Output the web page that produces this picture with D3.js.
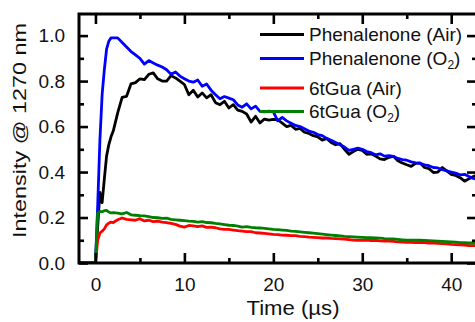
<!DOCTYPE html>
<html>
<head>
<meta charset="utf-8">
<script src="https://cdn.jsdelivr.net/npm/d3@7"></script>
<style>
  html, body { margin: 0; padding: 0; background: #fff; }
  svg { display: block; font-family: Arial, "Liberation Sans", sans-serif; }
</style>
</head>
<body>
<svg id="chart" width="475" height="322"></svg>
<script>
// ---------------------------------------------------------------- //
// Data

var time = [-2, 0, 0.25, 0.5, 0.75, 1, 1.25, 1.5, 1.75, 2,
  2.5, 3, 3.5, 4, 4.5, 5, 5.5, 6, 6.5, 7, 7.5, 8, 8.5, 9, 9.5, 10,
  10.5, 11, 11.5, 12, 12.5, 13, 13.5, 14, 14.5, 15, 15.5, 16, 16.5, 17, 17.5, 18,
  18.5, 19, 19.5, 20, 20.5, 21, 21.5, 22, 22.5, 23, 23.5, 24, 24.5, 25, 25.5, 26,
  26.5, 27, 27.5, 28, 28.5, 29, 29.5, 30, 30.5, 31, 31.5, 32, 32.5, 33, 33.5, 34,
  34.5, 35, 35.5, 36, 36.5, 37, 37.5, 38, 38.5, 39, 39.5, 40, 40.5, 41, 41.5, 42,
  42.5, 42.75];

var phenAir = [0, 0, 0.16, 0.31, 0.265, 0.37, 0.47, 0.52, 0.555, 0.58,
  0.66, 0.728, 0.733, 0.788, 0.793, 0.81, 0.806, 0.83, 0.836, 0.81, 0.80, 0.80, 0.824, 0.814, 0.80, 0.785,
  0.74, 0.76, 0.73, 0.748, 0.726, 0.74, 0.705, 0.696, 0.711, 0.682, 0.696, 0.672, 0.667, 0.655, 0.62, 0.645,
  0.616, 0.633, 0.628, 0.632, 0.63, 0.615, 0.60, 0.605, 0.588, 0.592, 0.575, 0.57, 0.56, 0.555, 0.54, 0.548,
  0.53, 0.52, 0.525, 0.50, 0.478, 0.49, 0.50, 0.495, 0.478, 0.48, 0.47, 0.458, 0.455, 0.465, 0.469, 0.45,
  0.44, 0.432, 0.425, 0.438, 0.44, 0.42, 0.415, 0.398, 0.40, 0.42, 0.405, 0.39, 0.385, 0.375, 0.36, 0.37,
  0.38, 0.385];

var phenO2 = [0, 0, 0.25, 0.54, 0.74, 0.85, 0.94, 0.975, 0.99, 0.99,
  0.99, 0.97, 0.95, 0.93, 0.915, 0.90, 0.875, 0.89, 0.88, 0.87, 0.862, 0.85, 0.83, 0.84, 0.822, 0.81,
  0.80, 0.795, 0.805, 0.777, 0.787, 0.76, 0.74, 0.722, 0.732, 0.725, 0.718, 0.695, 0.685, 0.70, 0.678, 0.69,
  0.667, 0.665, 0.668, 0.665, 0.625, 0.64, 0.625, 0.615, 0.605, 0.60, 0.59, 0.58, 0.575, 0.565, 0.56, 0.548,
  0.54, 0.53, 0.52, 0.51, 0.495, 0.50, 0.505, 0.50, 0.49, 0.485, 0.476, 0.48, 0.47, 0.472, 0.469, 0.46,
  0.455, 0.452, 0.445, 0.44, 0.438, 0.432, 0.428, 0.42, 0.418, 0.41, 0.405, 0.40, 0.395, 0.388, 0.39, 0.38,
  0.372, 0.37];

var guaAir = [0, 0, 0.10, 0.132, 0.14, 0.15, 0.168, 0.175, 0.18, 0.178,
  0.19, 0.198, 0.192, 0.19, 0.188, 0.195, 0.185, 0.188, 0.182, 0.184, 0.18, 0.178, 0.174, 0.17, 0.162, 0.158,
  0.165, 0.163, 0.16, 0.163, 0.157, 0.158, 0.155, 0.15, 0.148, 0.148, 0.145, 0.142, 0.14, 0.138, 0.138, 0.133,
  0.132, 0.13, 0.128, 0.126, 0.125, 0.123, 0.122, 0.12, 0.12, 0.117, 0.116, 0.114, 0.113, 0.112, 0.11, 0.11,
  0.108, 0.107, 0.106, 0.105, 0.103, 0.101, 0.1, 0.1, 0.101, 0.099, 0.1, 0.097, 0.096, 0.096, 0.095, 0.093,
  0.092, 0.091, 0.091, 0.09, 0.091, 0.09, 0.088, 0.087, 0.086, 0.085, 0.084, 0.082, 0.081, 0.08, 0.079, 0.077,
  0.076, 0.076];

var guaO2 = [0, 0, 0.22, 0.227, 0.225, 0.23, 0.231, 0.224, 0.22, 0.222,
  0.219, 0.216, 0.222, 0.212, 0.21, 0.208, 0.207, 0.204, 0.2, 0.199, 0.196, 0.197, 0.192, 0.19, 0.188, 0.186,
  0.184, 0.183, 0.18, 0.182, 0.178, 0.177, 0.174, 0.172, 0.169, 0.166, 0.165, 0.162, 0.158, 0.16, 0.157, 0.155,
  0.154, 0.152, 0.15, 0.148, 0.147, 0.145, 0.143, 0.14, 0.139, 0.137, 0.135, 0.133, 0.131, 0.129, 0.127, 0.125,
  0.123, 0.121, 0.119, 0.117, 0.116, 0.115, 0.114, 0.113, 0.112, 0.111, 0.11, 0.109, 0.107, 0.106, 0.106, 0.104,
  0.102, 0.1, 0.1, 0.101, 0.1, 0.099, 0.098, 0.097, 0.096, 0.095, 0.094, 0.093, 0.092, 0.09, 0.089, 0.088,
  0.088, 0.087];

var seriesNames = ['Phenalenone (Air)', 'Phenalenone (O', '6tGua (Air)', '6tGua (O'];
var seriesSub = ['', '2', '', '2'];
var seriesColors = ['#000000', '#0000ff', '#ff0000', '#008000'];
var seriesValues = [phenAir, phenO2, guaAir, guaO2];

var xTicks = [0, 10, 20, 30, 40];
var xMinor = [5, 15, 25, 35];
var yTicks = [0, 0.2, 0.4, 0.6, 0.8, 1.0];
var yMinor = [0.1, 0.3, 0.5, 0.7, 0.9];

// ---------------------------------------------------------------- //
// Layout

var plot = { left: 79, right: 477, top: 14, bottom: 263 };
var svg = d3.select('#chart');

var x = d3.scaleLinear().domain([-1.85, 42.9]).range([plot.left, plot.right]);
var y = d3.scaleLinear().domain([0, 1.095]).range([plot.bottom, plot.top]);

svg.append('defs').append('clipPath').attr('id', 'clip')
  .append('rect')
  .attr('x', plot.left).attr('y', plot.top)
  .attr('width', plot.right - plot.left).attr('height', plot.bottom - plot.top);

// ---------------------------------------------------------------- //
// Curves

var line = d3.line()
  .x(function(d, i){ return x(time[i]); })
  .y(function(d){ return y(d); });

var curves = svg.append('g').attr('clip-path', 'url(#clip)');
seriesValues.forEach(function(vals, k){
  curves.append('path')
    .attr('d', line(vals))
    .attr('fill', 'none')
    .attr('stroke', seriesColors[k])
    .attr('stroke-width', 2.8)
    .attr('stroke-linejoin', 'round');
});

// ---------------------------------------------------------------- //
// Axes (frame with inward ticks)

function styleAxis(g){
  g.select('.domain').remove();
  g.selectAll('.tick line').attr('stroke', '#000').attr('stroke-width', 2.6);
  g.selectAll('.tick text').attr('fill', '#111').style('font-size', '19px').style('font-family', 'Arial, "Liberation Sans", sans-serif');
}

svg.append('g').attr('transform', 'translate(0,' + plot.bottom + ')')
  .call(d3.axisBottom(x).tickValues(xTicks).tickSize(-10).tickPadding(15).tickFormat(d3.format('d')))
  .call(styleAxis);
svg.append('g').attr('transform', 'translate(0,' + plot.bottom + ')')
  .call(d3.axisBottom(x).tickValues(xMinor).tickSize(-5).tickFormat('')).call(styleAxis);

svg.append('g').attr('transform', 'translate(0,' + plot.top + ')')
  .call(d3.axisTop(x).tickValues(xTicks).tickSize(-10).tickFormat('')).call(styleAxis);
svg.append('g').attr('transform', 'translate(0,' + plot.top + ')')
  .call(d3.axisTop(x).tickValues(xMinor).tickSize(-5).tickFormat('')).call(styleAxis);

svg.append('g').attr('transform', 'translate(' + plot.left + ',0)')
  .call(d3.axisLeft(y).tickValues(yTicks).tickSize(-9).tickPadding(14).tickFormat(d3.format('.1f')))
  .call(styleAxis);
svg.append('g').attr('transform', 'translate(' + plot.left + ',0)')
  .call(d3.axisLeft(y).tickValues(yMinor).tickSize(-5).tickFormat('')).call(styleAxis);

svg.append('g').attr('transform', 'translate(' + plot.right + ',0)')
  .call(d3.axisRight(y).tickValues(yTicks).tickSize(-10).tickFormat('')).call(styleAxis);
svg.append('g').attr('transform', 'translate(' + plot.right + ',0)')
  .call(d3.axisRight(y).tickValues(yMinor).tickSize(-5).tickFormat('')).call(styleAxis);

svg.append('rect')
  .attr('x', plot.left).attr('y', plot.top)
  .attr('width', plot.right - plot.left).attr('height', plot.bottom - plot.top)
  .attr('fill', 'none').attr('stroke', '#000').attr('stroke-width', 3);

// ---------------------------------------------------------------- //
// Titles

svg.append('text')
  .attr('x', 293).attr('y', 315)
  .attr('text-anchor', 'middle')
  .attr('textLength', 93).attr('lengthAdjust', 'spacingAndGlyphs')
  .style('font-size', '20px').attr('fill', '#111')
  .text('Time (µs)');

svg.append('text')
  .attr('transform', 'translate(26,130.5) rotate(-90)')
  .attr('text-anchor', 'middle')
  .attr('textLength', 215).attr('lengthAdjust', 'spacingAndGlyphs')
  .style('font-size', '19px').attr('fill', '#111')
  .text('Intensity @ 1270 nm');

// ---------------------------------------------------------------- //
// Legend

var legendBase = [41, 65, 94.5, 118];
var legend = svg.append('g');
seriesNames.forEach(function(name, k){
  legend.append('line')
    .attr('x1', 260).attr('x2', 304)
    .attr('y1', legendBase[k] - 6.5).attr('y2', legendBase[k] - 6.5)
    .attr('stroke', seriesColors[k]).attr('stroke-width', 2.8);
  var t = legend.append('text')
    .attr('x', 309).attr('y', legendBase[k])
    .style('font-size', '19px').attr('fill', '#111');
  t.append('tspan').text(name);
  if(seriesSub[k]){
    t.append('tspan').attr('dy', 4).style('font-size', '12px').text(seriesSub[k]);
    t.append('tspan').attr('dy', -4).text(')');
  }
});
</script>
</body>
</html>
